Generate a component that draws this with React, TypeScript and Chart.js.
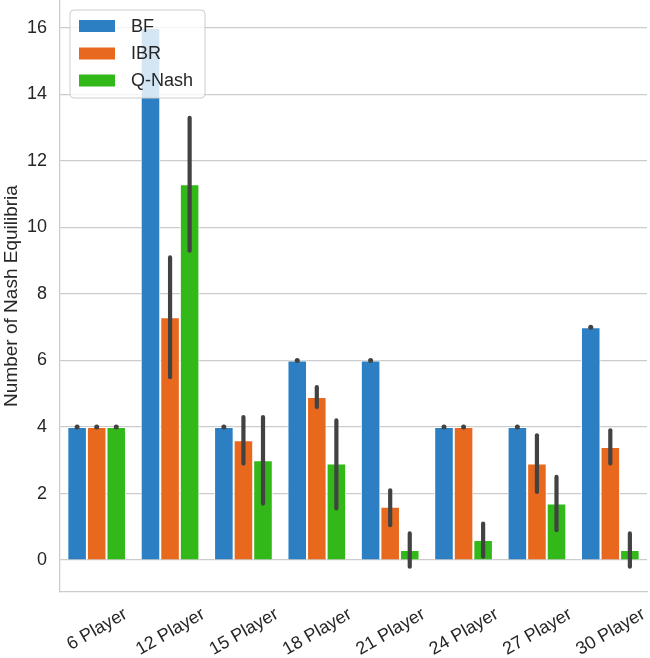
import React, { useEffect, useRef } from "react";
import { Chart, registerables } from "chart.js";

Chart.register(...registerables);

const categories = ["6 Player", "12 Player", "15 Player", "18 Player", "21 Player", "24 Player", "27 Player", "30 Player"];
const seriesNames = ["BF", "IBR", "Q-Nash"];
const bfValues = [4, 16, 4, 6, 6, 4, 4, 7];
const ibrValues = [4, 7.3, 3.6, 4.9, 1.6, 4, 2.9, 3.4];
const qnashValues = [4, 11.3, 3.0, 2.9, 0.3, 0.6, 1.7, 0.3];
const bfLow = [4, NaN, 4, 6, 6, 4, 4, 7];
const bfHigh = [4, NaN, 4, 6, 6, 4, 4, 7];
const ibrLow = [4, 5.5, 2.9, 4.6, 1.05, 4, 2.05, 2.9];
const ibrHigh = [4, 9.1, 4.3, 5.2, 2.1, 4, 3.75, 3.9];
const qnashLow = [4, 9.3, 1.7, 1.55, -0.2, 0.1, 0.9, -0.2];
const qnashHigh = [4, 13.3, 4.3, 4.2, 0.8, 1.1, 2.5, 0.8];
const yTicks = [0, 2, 4, 6, 8, 10, 12, 14, 16];

const colors = ["#2b7fc2", "#e8691d", "#33b81a"];
const FONT = '"Liberation Sans", Arial, sans-serif';
const TEXT = "#262626";
const FS = 18;

const errorBarPlugin = {
  id: "errorBars",
  afterDatasetsDraw(chart: any) {
    const ctx = chart.ctx;
    const y = chart.scales.y;
    const lows = [bfLow, ibrLow, qnashLow];
    const highs = [bfHigh, ibrHigh, qnashHigh];
    ctx.save();
    ctx.strokeStyle = "#424242";
    ctx.fillStyle = "#424242";
    ctx.lineWidth = 4.2;
    ctx.lineCap = "round";
    for (let d = 0; d < 3; d++) {
      const meta = chart.getDatasetMeta(d);
      meta.data.forEach((bar: any, i: number) => {
        const lo = lows[d][i];
        const hi = highs[d][i];
        if (isNaN(lo) || isNaN(hi)) return;
        const y1 = y.getPixelForValue(lo);
        const y2 = y.getPixelForValue(hi);
        if (Math.abs(y1 - y2) < 0.5) {
          ctx.beginPath();
          ctx.arc(bar.x, y1, 2.5, 0, Math.PI * 2);
          ctx.fill();
        } else {
          ctx.beginPath();
          ctx.moveTo(bar.x, y1);
          ctx.lineTo(bar.x, y2);
          ctx.stroke();
        }
      });
    }
    ctx.restore();
  },
};

const xLabelPlugin = {
  id: "xLabels",
  afterDraw(chart: any) {
    const ctx = chart.ctx;
    const xs = chart.scales.x;
    const top = chart.chartArea.bottom + 11;
    const ang = (30 * Math.PI) / 180;
    const h = FS * 1.15;
    ctx.save();
    ctx.font = `${FS}px ${FONT}`;
    ctx.fillStyle = TEXT;
    ctx.textAlign = "center";
    ctx.textBaseline = "middle";
    categories.forEach((lab, i) => {
      const w = ctx.measureText(lab).width;
      const H = w * Math.sin(ang) + h * Math.cos(ang);
      const cx = xs.getPixelForTick(i);
      const cy = top + H / 2;
      ctx.save();
      ctx.translate(cx, cy);
      ctx.rotate(-ang);
      ctx.fillText(lab, 0, 1);
      ctx.restore();
    });
    ctx.restore();
  },
};

const legendPlugin = {
  id: "customLegend",
  afterDraw(chart: any) {
    const ctx = chart.ctx;
    ctx.save();
    const x0 = 70, y0 = 10, w = 135, h = 88, r = 4;
    ctx.beginPath();
    ctx.moveTo(x0 + r, y0);
    ctx.lineTo(x0 + w - r, y0);
    ctx.quadraticCurveTo(x0 + w, y0, x0 + w, y0 + r);
    ctx.lineTo(x0 + w, y0 + h - r);
    ctx.quadraticCurveTo(x0 + w, y0 + h, x0 + w - r, y0 + h);
    ctx.lineTo(x0 + r, y0 + h);
    ctx.quadraticCurveTo(x0, y0 + h, x0, y0 + h - r);
    ctx.lineTo(x0, y0 + r);
    ctx.quadraticCurveTo(x0, y0, x0 + r, y0);
    ctx.closePath();
    ctx.fillStyle = "rgba(255,255,255,0.8)";
    ctx.fill();
    ctx.strokeStyle = "#cccccc";
    ctx.lineWidth = 1;
    ctx.stroke();
    const rows = [26, 53.5, 80.5];
    ctx.font = `${FS}px ${FONT}`;
    ctx.textBaseline = "middle";
    ctx.textAlign = "left";
    seriesNames.forEach((name, i) => {
      ctx.fillStyle = colors[i];
      ctx.fillRect(79, rows[i] - 6, 36, 12);
      ctx.fillStyle = TEXT;
      ctx.fillText(name, 131, rows[i] + 1);
    });
    ctx.restore();
  },
};

export default function App() {
  const ref = useRef<HTMLCanvasElement>(null);
  useEffect(() => {
    if (!ref.current) return;
    const values = [bfValues, ibrValues, qnashValues];
    const chart = new Chart(ref.current, {
      type: "bar",
      data: {
        labels: categories,
        datasets: seriesNames.map((name, i) => ({
          label: name,
          data: values[i],
          backgroundColor: colors[i],
          borderColor: "#ffffff",
          borderWidth: 1,
          categoryPercentage: 0.8,
          barPercentage: 1.0,
        })),
      },
      options: {
        responsive: false,
        animation: false,
        layout: { padding: { left: 0, right: 3, top: 0, bottom: 0 } },
        plugins: { legend: { display: false }, tooltip: { enabled: false } },
        scales: {
          x: {
            grid: { display: false },
            border: { display: true, color: "#cccccc", width: 1.3 },
            ticks: { display: false },
            afterFit(scale: any) {
              scale.height = 66;
              scale.paddingLeft = 0;
              scale.paddingRight = 0;
            },
          },
          y: {
            min: -0.96,
            max: 16.84,
            grid: { color: "#cccccc", lineWidth: 1.3, drawTicks: false },
            border: { display: true, color: "#cccccc", width: 1.3 },
            ticks: {
              color: TEXT,
              font: { family: FONT, size: FS },
              padding: 13,
            },
            afterBuildTicks(scale: any) {
              scale.ticks = yTicks.map((v) => ({ value: v }));
            },
            title: {
              display: true,
              text: "Number of Nash Equilibria",
              color: TEXT,
              font: { family: FONT, size: 19 },
              padding: { top: 0, bottom: 0 },
            },
            afterFit(scale: any) {
              scale.width = 60;
              scale.paddingTop = 0;
              scale.paddingBottom = 0;
            },
          },
        },
      },
      plugins: [errorBarPlugin, xLabelPlugin, legendPlugin],
    });
    return () => chart.destroy();
  }, []);
  return (
    <div style={{ position: "absolute", left: 0, top: 0, width: 650, height: 658, background: "#fff" }}>
      <canvas ref={ref} width={650} height={658} />
    </div>
  );
}
